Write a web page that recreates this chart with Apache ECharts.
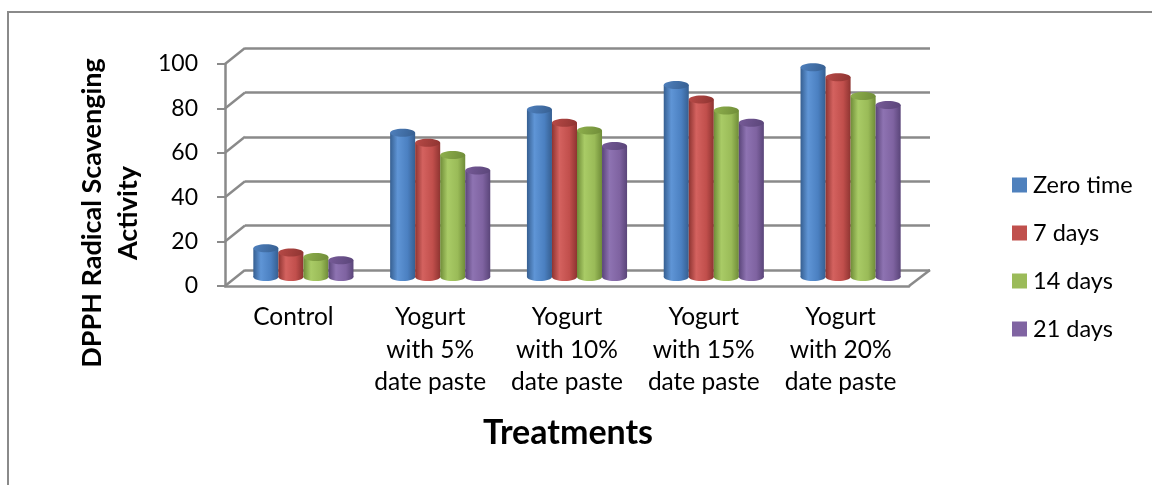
<!DOCTYPE html>
<html>
<head>
<meta charset="utf-8">
<script src="https://cdn.jsdelivr.net/npm/echarts@6/dist/echarts.min.js"></script>
<style>
  html, body { margin: 0; padding: 0; background: #fff; }
  #chart { width: 1152px; height: 485px; }
</style>
</head>
<body>
<div id="chart"></div>
<script>
// Treatments and DPPH radical scavenging activity over storage time
const categories = [
  'Control',
  'Yogurt\nwith 5%\ndate paste',
  'Yogurt\nwith 10%\ndate paste',
  'Yogurt\nwith 15%\ndate paste',
  'Yogurt\nwith 20%\ndate paste'
];
const seriesNames = ['Zero time', '7 days', '14 days', '21 days'];
const zeroTime = [13, 65, 75.5, 86.5, 94.5];
const days7 = [11, 60.5, 69.5, 80, 90];
const days14 = [9, 55, 66, 75, 81.5];
const days21 = [7.5, 48, 59, 69.5, 77.5];
const yMin = 0, yMax = 100, yStep = 20;
const yTitle = 'DPPH Radical Scavenging\nActivity';
const xTitle = 'Treatments';

const FONT = 'Lato, "Open Sans", sans-serif';
const FRAME = '#8a8a8a';

// cylinder shades
const palette = [
  { base: '#4F81BD', dark: '#365f91', light: '#5f95d6', mid: '#4b80c1', cap: '#4f80bd' },
  { base: '#C0504D', dark: '#8e3431', light: '#d4625f', mid: '#c14f4c', cap: '#b84a47' },
  { base: '#9BBB59', dark: '#6f8c38', light: '#a9cb66', mid: '#9abb58', cap: '#8fb04d' },
  { base: '#8064A2', dark: '#5a4579', light: '#8e73b2', mid: '#7f63a1', cap: '#775b98' }
];
const seriesData = [zeroTime, days7, days14, days21];

function bodyFill(p) {
  return new echarts.graphic.LinearGradient(0, 0, 1, 0, [
    { offset: 0, color: p.dark },
    { offset: 0.3, color: p.light },
    { offset: 0.7, color: p.mid },
    { offset: 1, color: p.dark }
  ]);
}

function cylinderRenderer(sIdx) {
  const p = palette[sIdx];
  return function (params, api) {
    const cat = api.value(0);
    const val = api.value(1);
    const base = api.coord([cat, 0]);
    const top = api.coord([cat, val]);
    const band = api.size([1, 0])[0];
    const w = band * 0.183;
    const cx = base[0] + (sIdx - 1.5) * w;
    const rx = w / 2, ry = 4;
    const fill = bodyFill(p);
    return {
      type: 'group',
      children: [
        { type: 'ellipse', shape: { cx: cx, cy: base[1], rx: rx, ry: ry }, style: { fill: fill } },
        { type: 'rect', shape: { x: cx - rx, y: top[1], width: w, height: base[1] - top[1] }, style: { fill: fill } },
        { type: 'ellipse', shape: { cx: cx, cy: top[1], rx: rx, ry: ry },
          style: { fill: new echarts.graphic.LinearGradient(0, 0, 1, 1, [
            { offset: 0, color: p.cap }, { offset: 1, color: p.dark }
          ]) } }
      ]
    };
  };
}

const chart = echarts.init(document.getElementById('chart'), null, { renderer: 'canvas' });

const option = {
  backgroundColor: '#fff',
  animation: false,
  grid: [
    // plane where the cylinders stand (mid depth)
    { left: 235, top: 55, width: 684, height: 222 },
    // back wall
    { left: 245, top: 48, width: 685, height: 222 },
    // front plane carrying the value and category axes
    { left: 225, top: 64, width: 684, height: 222 }
  ],
  xAxis: [
    { gridIndex: 0, type: 'category', data: categories, show: false },
    { gridIndex: 1, type: 'category', data: categories, show: false },
    { gridIndex: 2, type: 'category', data: categories,
      axisLine: { show: true, lineStyle: { color: FRAME, width: 2.5 } },
      axisTick: { show: false },
      axisLabel: { color: '#000', fontFamily: FONT, fontSize: 24.5, lineHeight: 32.5, margin: 15, interval: 0 } }
  ],
  yAxis: [
    { gridIndex: 0, type: 'value', min: yMin, max: yMax, interval: yStep, show: false },
    { gridIndex: 1, type: 'value', min: yMin, max: yMax, interval: yStep,
      axisLine: { show: false }, axisTick: { show: false }, axisLabel: { show: false },
      splitLine: { show: true, lineStyle: { color: FRAME, width: 2.5 } } },
    { gridIndex: 2, type: 'value', min: yMin, max: yMax, interval: yStep,
      axisLine: { show: true, lineStyle: { color: FRAME, width: 2.5 } },
      axisTick: { show: true, length: 8, lineStyle: { color: FRAME, width: 2 } },
      axisLabel: { color: '#000', fontFamily: FONT, fontSize: 23, margin: 27 },
      splitLine: { show: false } }
  ],
  legend: {
    orient: 'vertical',
    left: 1007,
    top: 168,
    itemWidth: 15,
    itemHeight: 15,
    itemGap: 24,
    icon: 'rect',
    textStyle: { color: '#000', fontFamily: FONT, fontSize: 23.5, lineHeight: 24, padding: [0, 0, 0, 1] },
    data: seriesNames
  },
  series: seriesData.map((arr, i) => ({
    name: seriesNames[i],
    type: 'custom',
    xAxisIndex: 0,
    yAxisIndex: 0,
    itemStyle: { color: palette[i].base },
    renderItem: cylinderRenderer(i),
    encode: { x: 0, y: 1 },
    data: arr.map((v, k) => [k, v]),
    z: 5
  }))
};

chart.setOption(option);

// depth connectors: front tick -> back wall line, plus the floor's right edge
function frameGraphics() {
  const els = [];
  for (let v = yMin; v <= yMax; v += yStep) {
    const f = chart.convertToPixel({ gridIndex: 2 }, [0, v]);
    const b = chart.convertToPixel({ gridIndex: 1 }, [0, v]);
    els.push({ type: 'line', shape: { x1: 225, y1: f[1], x2: 245, y2: b[1] },
      style: { stroke: FRAME, lineWidth: 2.5 }, z: 1 });
  }
  const f0 = chart.convertToPixel({ gridIndex: 2 }, [0, yMin]);
  const b0 = chart.convertToPixel({ gridIndex: 1 }, [0, yMin]);
  els.push({ type: 'line', shape: { x1: 909, y1: f0[1], x2: 930, y2: b0[1] },
    style: { stroke: FRAME, lineWidth: 2.5 }, z: 1 });
  // outer chart border
  els.push({ type: 'rect', shape: { x: 8, y: 12, width: 1170, height: 500 },
    style: { fill: null, stroke: FRAME, lineWidth: 2 }, z: 0 });
  // axis titles
  els.push({ type: 'text', x: 110, y: 213, rotation: Math.PI / 2,
    style: { text: yTitle, fill: '#000', font: 'bold 27px ' + FONT, align: 'center',
      verticalAlign: 'middle', lineHeight: 36 } });
  els.push({ type: 'text', x: 568, y: 433,
    style: { text: xTitle, fill: '#000', font: 'bold 34px ' + FONT, align: 'center',
      verticalAlign: 'middle' } });
  return els;
}
chart.setOption({ graphic: { elements: frameGraphics() } });
</script>
</body>
</html>
